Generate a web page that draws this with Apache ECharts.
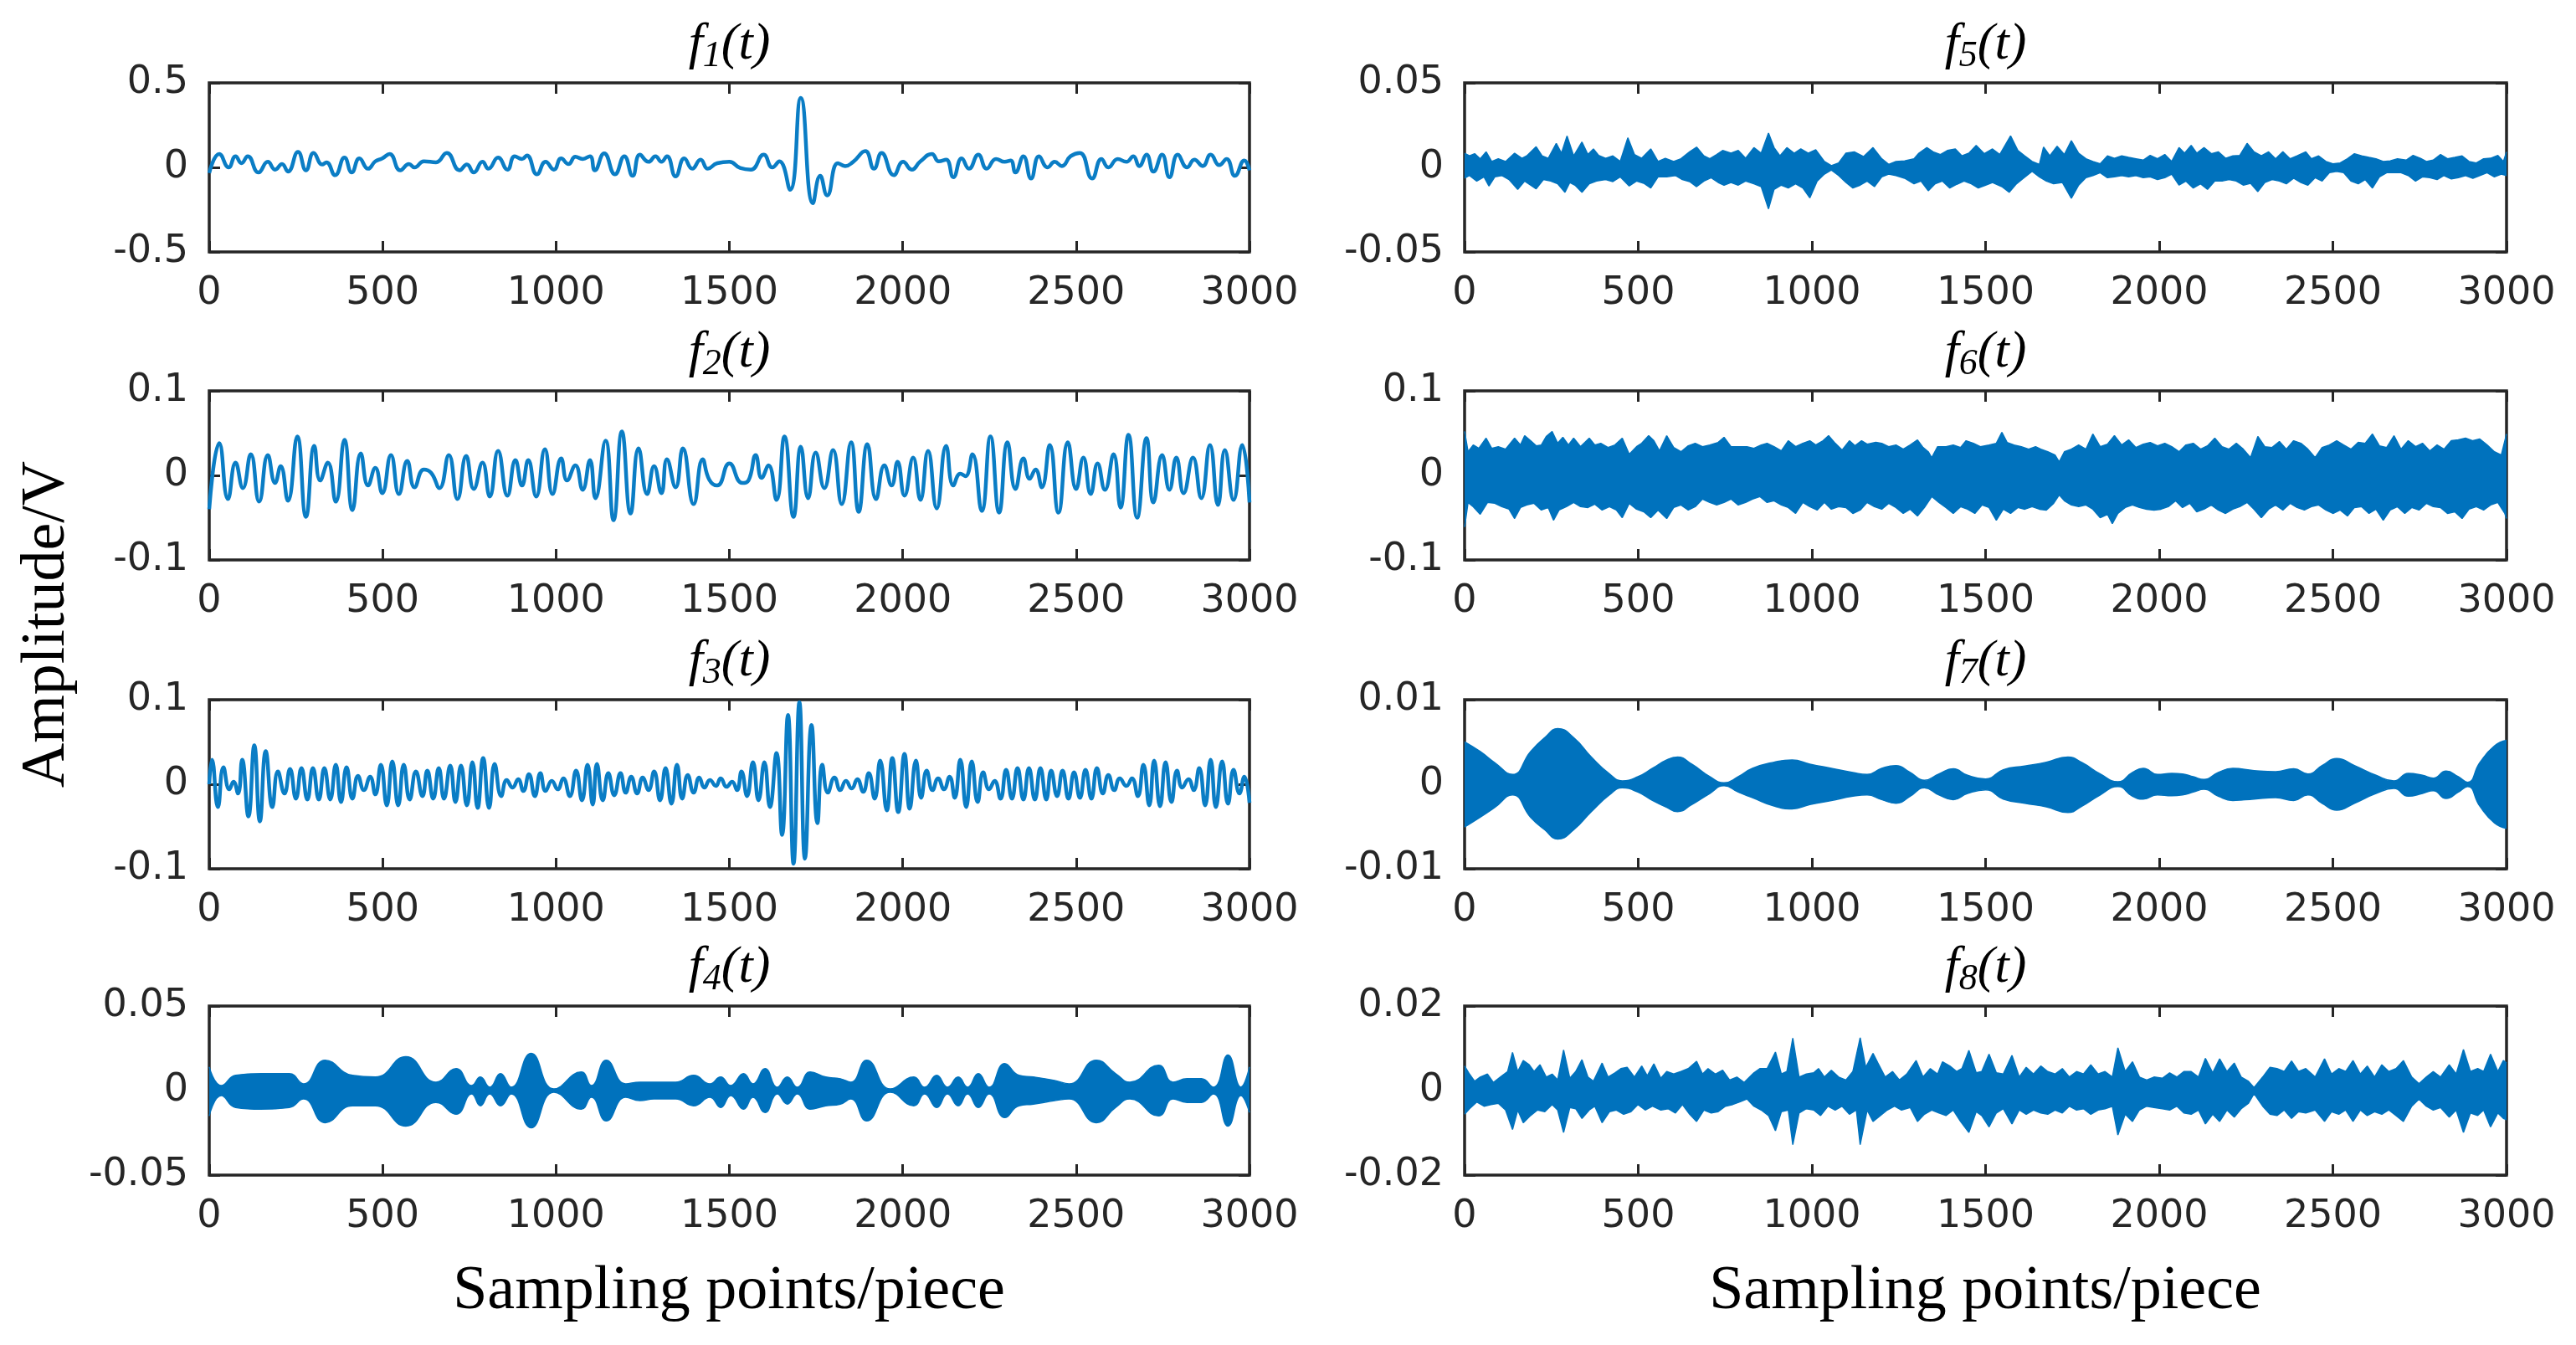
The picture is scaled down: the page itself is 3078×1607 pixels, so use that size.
<!DOCTYPE html>
<html>
<head>
<meta charset="utf-8">
<title>f1(t) - f8(t)</title>
<script src="https://cdn.jsdelivr.net/npm/echarts@6/dist/echarts.min.js"></script>
<style>
  html, body { margin: 0; padding: 0; background: #fff; }
  #main { width: 3078px; height: 1607px; }
</style>
</head>
<body>
<div id="main"></div>
<script>
// ---- data: [sample, amplitude V] ----
// f1..f3: turning points of the waveform
var f1Points = [[0,-0.033],[29,0.079],[56,0],[76,0.066],[93,0.025],[111,0.066],[142,-0.03],[169,0.033],[190,-0.013],[210,0.02],[227,-0.025],[256,0.091],[279,-0.017],[301,0.086],[326,0.017],[338,0.03],[363,-0.046],[390,0.058],[411,-0.03],[433,0.053],[458,-0.008],[479,0.036],[499,0.053],[520,0.079],[551,-0.017],[576,0.02],[592,0],[619,0.036],[654,0.03],[685,0.086],[722,-0.017],[743,0.017],[763,-0.03],[788,0.033],[805,-0.008],[833,0.058],[860,-0.013],[881,0.066],[902,0.05],[916,0.07],[945,-0.041],[970,0.033],[994,-0.013],[1015,0.053],[1036,0.02],[1056,0.063],[1077,0.05],[1098,0.066],[1112,-0.017],[1139,0.083],[1170,-0.041],[1197,0.066],[1221,-0.05],[1242,0.075],[1267,0.033],[1287,0.066],[1304,0.033],[1320,0.066],[1345,-0.053],[1370,0.053],[1393,-0.008],[1417,0.046],[1438,-0.008],[1465,0.025],[1500,0.033],[1531,-0.003],[1562,-0.013],[1599,0.075],[1624,0],[1644,0.036],[1675,-0.132],[1706,0.411],[1741,-0.212],[1762,-0.05],[1782,-0.166],[1813,0.025],[1834,0.008],[1857,0.033],[1892,0.096],[1917,-0.008],[1939,0.086],[1974,-0.046],[2001,0.033],[2026,-0.013],[2051,0.036],[2084,0.079],[2104,0.036],[2125,0.046],[2146,-0.058],[2170,0.053],[2191,-0.008],[2218,0.075],[2242,-0.008],[2269,0.05],[2294,0.033],[2311,0.041],[2325,-0.03],[2348,0.066],[2370,-0.066],[2393,0.066],[2418,0],[2438,0.033],[2459,0.008],[2484,0.066],[2511,0.086],[2546,-0.066],[2573,0.05],[2593,0],[2620,0.05],[2645,0.033],[2665,0.066],[2682,0.008],[2703,0.075],[2723,-0.025],[2748,0.075],[2769,-0.058],[2793,0.075],[2820,0],[2841,0.046],[2865,0.008],[2888,0.075],[2913,0.013],[2934,0.05],[2958,-0.05],[2985,0.041],[3000,-0.017]];

var f2Points = [[0,-0.040],[29,0.038],[54,-0.028],[76,0.015],[97,-0.015],[120,0.025],[144,-0.031],[169,0.024],[190,-0.009],[206,0.011],[227,-0.030],[254,0.046],[279,-0.049],[303,0.035],[320,-0.006],[342,0.015],[365,-0.031],[390,0.042],[413,-0.041],[437,0.026],[458,-0.012],[479,0.009],[499,-0.021],[524,0.024],[547,-0.022],[571,0.017],[592,-0.014],[619,0.007],[640,0.003],[664,-0.015],[691,0.024],[716,-0.028],[741,0.023],[763,-0.016],[788,0.015],[809,-0.025],[833,0.029],[860,-0.024],[883,0.018],[902,-0.012],[920,0.018],[943,-0.025],[968,0.031],[990,-0.022],[1015,0.020],[1032,-0.006],[1056,0.012],[1077,-0.017],[1098,0.018],[1114,-0.027],[1143,0.041],[1166,-0.053],[1190,0.052],[1215,-0.045],[1238,0.032],[1263,-0.022],[1283,0.011],[1304,-0.021],[1320,0.019],[1345,-0.014],[1366,0.032],[1397,-0.034],[1423,0.019],[1442,-0.005],[1465,-0.012],[1500,0.014],[1537,-0.009],[1555,-0.006],[1576,0.024],[1593,-0.003],[1613,0.012],[1636,-0.029],[1659,0.046],[1685,-0.049],[1706,0.034],[1727,-0.027],[1749,0.027],[1774,-0.015],[1799,0.030],[1824,-0.034],[1851,0.039],[1873,-0.043],[1898,0.037],[1923,-0.028],[1947,0.012],[1968,-0.012],[1985,0.016],[2005,-0.024],[2030,0.021],[2051,-0.029],[2073,0.029],[2098,-0.039],[2125,0.035],[2146,-0.012],[2166,0.002],[2181,-0.001],[2201,0.025],[2228,-0.042],[2253,0.046],[2278,-0.044],[2302,0.039],[2325,-0.016],[2348,0.020],[2366,-0.004],[2383,0.007],[2401,-0.014],[2424,0.036],[2449,-0.044],[2476,0.039],[2500,-0.016],[2521,0.021],[2542,-0.022],[2562,0.014],[2583,-0.017],[2608,0.025],[2628,-0.038],[2651,0.048],[2676,-0.050],[2703,0.044],[2723,-0.032],[2748,0.024],[2769,-0.017],[2789,0.021],[2810,-0.021],[2837,0.021],[2861,-0.027],[2886,0.036],[2909,-0.035],[2929,0.030],[2954,-0.029],[2979,0.036],[3000,-0.032]];

var f3Points = [[0,0],[8,0.029],[25,-0.027],[41,0.020],[58,-0.006],[70,0.003],[83,-0.011],[95,0.029],[113,-0.038],[130,0.046],[146,-0.044],[163,0.039],[182,-0.027],[198,0.015],[217,-0.011],[233,0.018],[250,-0.017],[266,0.019],[283,-0.018],[299,0.019],[316,-0.018],[332,0.019],[349,-0.018],[365,0.023],[380,-0.021],[396,0.020],[413,-0.017],[429,0.010],[446,-0.007],[464,0.009],[479,-0.012],[495,0.023],[512,-0.025],[528,0.027],[545,-0.025],[561,0.023],[578,-0.018],[596,0.015],[615,-0.014],[629,0.016],[646,-0.017],[662,0.019],[677,-0.017],[695,0.022],[710,-0.021],[726,0.022],[743,-0.025],[759,0.026],[774,-0.028],[790,0.031],[807,-0.028],[823,0.024],[842,-0.014],[858,0.005],[875,-0.004],[891,0.006],[906,-0.008],[922,0.012],[939,-0.014],[955,0.013],[970,-0.008],[988,0.004],[1005,-0.006],[1021,0.007],[1040,-0.014],[1058,0.016],[1075,-0.019],[1091,0.023],[1106,-0.024],[1118,0.024],[1135,-0.019],[1151,0.013],[1168,-0.013],[1186,0.013],[1201,-0.010],[1217,0.009],[1234,-0.011],[1250,0.008],[1267,-0.007],[1283,0.015],[1300,-0.019],[1316,0.019],[1333,-0.023],[1349,0.023],[1364,-0.017],[1380,0.011],[1397,-0.010],[1413,0.008],[1428,-0.004],[1444,0.005],[1461,-0.002],[1475,0.007],[1492,-0.003],[1508,0.003],[1522,-0.007],[1535,0.015],[1551,-0.014],[1568,0.026],[1584,-0.019],[1601,0.026],[1617,-0.027],[1636,0.037],[1652,-0.060],[1669,0.082],[1685,-0.094],[1702,0.097],[1718,-0.088],[1737,0.070],[1754,-0.046],[1768,0.023],[1784,-0.010],[1803,0.008],[1820,-0.007],[1836,0.004],[1853,-0.005],[1869,0.006],[1886,-0.009],[1902,0.013],[1919,-0.017],[1935,0.028],[1954,-0.031],[1970,0.031],[1987,-0.033],[2005,0.036],[2020,-0.029],[2038,0.028],[2053,-0.016],[2069,0.016],[2086,-0.007],[2102,0.007],[2119,-0.006],[2135,0.009],[2150,-0.016],[2166,0.029],[2183,-0.027],[2199,0.027],[2216,-0.021],[2232,0.014],[2249,-0.006],[2265,0.004],[2282,-0.017],[2298,0.017],[2315,-0.017],[2331,0.019],[2348,-0.018],[2364,0.019],[2381,-0.018],[2397,0.019],[2414,-0.018],[2428,0.016],[2445,-0.014],[2461,0.016],[2478,-0.017],[2494,0.014],[2511,-0.016],[2527,0.017],[2544,-0.017],[2560,0.019],[2577,-0.011],[2593,0.011],[2610,-0.007],[2626,0.007],[2645,-0.002],[2661,0.007],[2678,-0.014],[2694,0.023],[2711,-0.025],[2725,0.028],[2742,-0.026],[2758,0.026],[2775,-0.021],[2791,0.016],[2806,-0.004],[2824,0.006],[2839,-0.007],[2855,0.019],[2872,-0.025],[2888,0.029],[2903,-0.027],[2921,0.027],[2938,-0.023],[2954,0.017],[2971,-0.011],[2985,0.009],[3000,-0.022]];

// f4, f7: upper / lower envelope of the dense carrier
var f4X = [0,35,76,149,231,272,334,413,479,567,654,712,757,782,809,840,871,928,994,1073,1102,1145,1201,1242,1283,1345,1397,1444,1475,1504,1541,1568,1603,1638,1667,1696,1733,1778,1820,1850,1896,1964,2032,2063,2098,2129,2160,2187,2218,2249,2294,2335,2377,2438,2480,2558,2614,2655,2738,2779,2820,2861,2896,2938,2975,3000];
var f4Upper = [0.014,0.003,0.009,0.010,0.010,0.004,0.018,0.009,0.008,0.020,0.005,0.013,0.003,0.008,0.002,0.010,0.002,0.022,0.001,0.011,0.003,0.018,0.004,0.005,0.005,0.005,0.009,0.004,0.008,0.003,0.010,0.004,0.013,0.002,0.008,0.002,0.011,0.008,0.007,0.005,0.018,0.001,0.008,0.002,0.009,0.002,0.008,0.002,0.010,0.002,0.016,0.009,0.008,0.006,0.004,0.018,0.010,0.005,0.015,0.005,0.007,0.007,0.002,0.021,0.002,0.014];
var f4Lower = [-0.015,-0.003,-0.010,-0.011,-0.010,-0.005,-0.019,-0.009,-0.009,-0.021,-0.007,-0.014,-0.002,-0.009,-0.002,-0.009,-0.002,-0.022,-0.001,-0.011,-0.004,-0.018,-0.004,-0.006,-0.005,-0.005,-0.009,-0.004,-0.010,-0.003,-0.011,-0.004,-0.013,-0.002,-0.008,-0.002,-0.011,-0.009,-0.008,-0.005,-0.018,-0.001,-0.009,-0.002,-0.010,-0.002,-0.009,-0.002,-0.010,-0.002,-0.016,-0.009,-0.008,-0.006,-0.005,-0.019,-0.010,-0.005,-0.015,-0.005,-0.007,-0.007,-0.002,-0.021,-0.003,-0.013];

var f7X = [0,45,87,138,190,231,268,314,365,417,454,499,541,582,613,654,706,747,788,829,891,943,994,1056,1118,1159,1201,1242,1283,1324,1366,1407,1448,1500,1551,1613,1675,1737,1778,1830,1881,1923,1954,1995,2036,2067,2098,2129,2170,2212,2273,2335,2387,2428,2469,2511,2562,2624,2676,2717,2758,2789,2826,2861,2888,2923,2965,3000];
var f7Upper = [0.00502,0.00387,0.00255,0.00116,0.00387,0.00552,0.00658,0.00552,0.00321,0.00122,0.00040,0.00089,0.00188,0.00288,0.00321,0.00238,0.00089,0.00017,0.00089,0.00188,0.00261,0.00288,0.00238,0.00188,0.00139,0.00116,0.00188,0.00221,0.00139,0.00046,0.00122,0.00182,0.00106,0.00063,0.00172,0.00215,0.00261,0.00321,0.00255,0.00122,0.00030,0.00139,0.00188,0.00116,0.00129,0.00122,0.00089,0.00056,0.00139,0.00188,0.00162,0.00149,0.00182,0.00122,0.00221,0.00304,0.00221,0.00106,0.00040,0.00129,0.00106,0.00073,0.00155,0.00089,0.00023,0.00255,0.00453,0.00519];
var f7Lower = [-0.00506,-0.00390,-0.00274,-0.00126,-0.00390,-0.00539,-0.00648,-0.00539,-0.00324,-0.00126,-0.00043,-0.00093,-0.00192,-0.00274,-0.00324,-0.00241,-0.00109,-0.00017,-0.00093,-0.00159,-0.00258,-0.00291,-0.00241,-0.00192,-0.00142,-0.00126,-0.00182,-0.00225,-0.00142,-0.00043,-0.00126,-0.00182,-0.00109,-0.00066,-0.00175,-0.00225,-0.00268,-0.00334,-0.00258,-0.00126,-0.00026,-0.00142,-0.00175,-0.00126,-0.00136,-0.00126,-0.00093,-0.00060,-0.00142,-0.00192,-0.00175,-0.00159,-0.00192,-0.00126,-0.00225,-0.00307,-0.00225,-0.00109,-0.00050,-0.00142,-0.00109,-0.00076,-0.00169,-0.00093,-0.00026,-0.00258,-0.00456,-0.00522];

// f5, f6, f8: spiky envelopes, [sample, amplitude V]
var f5Upper = [[0,0.0084],[14,0.0068],[29,0.0081],[45,0.0051],[62,0.0092],[78,0.0035],[97,0.0051],[118,0.0035],[144,0.0084],[165,0.0054],[179,0.0068],[206,0.0122],[223,0.0068],[241,0.0054],[264,0.0142],[279,0.0084],[295,0.0186],[314,0.0068],[338,0.015],[355,0.0076],[371,0.0109],[386,0.0071],[406,0.0054],[427,0.0068],[448,0.0035],[470,0.0175],[489,0.0076],[510,0.0054],[536,0.0109],[557,0.0035],[578,0.0054],[602,0.0035],[623,0.0051],[648,0.0092],[668,0.012],[689,0.0068],[706,0.0051],[726,0.0076],[743,0.01],[767,0.0084],[788,0.01],[809,0.0054],[833,0.0117],[854,0.0084],[875,0.0203],[891,0.0117],[908,0.0068],[928,0.0117],[949,0.0084],[968,0.0109],[990,0.0084],[1011,0.0104],[1036,0.0035],[1056,0.001],[1077,0.0026],[1098,0.0084],[1122,0.0092],[1149,0.0064],[1176,0.0117],[1201,0.0051],[1221,0.0018],[1242,0.0035],[1267,0.0038],[1294,0.0051],[1308,0.0084],[1331,0.0117],[1349,0.0092],[1370,0.0076],[1390,0.01],[1413,0.0109],[1432,0.0068],[1452,0.0084],[1473,0.013],[1496,0.0081],[1520,0.0109],[1541,0.0076],[1572,0.0186],[1593,0.01],[1613,0.0068],[1634,0.0035],[1655,0.0018],[1667,0.012],[1685,0.0068],[1706,0.0125],[1727,0.0076],[1747,0.0158],[1768,0.0084],[1789,0.0051],[1809,0.0035],[1830,0.0021],[1851,0.0068],[1871,0.0054],[1892,0.0068],[1912,0.0059],[1933,0.0051],[1954,0.0043],[1974,0.0071],[1995,0.0051],[2016,0.0076],[2036,0.0035],[2057,0.0117],[2073,0.0084],[2092,0.013],[2108,0.0084],[2129,0.0117],[2150,0.0081],[2170,0.0092],[2191,0.0054],[2212,0.0068],[2232,0.0071],[2253,0.0142],[2273,0.0092],[2294,0.0068],[2315,0.0092],[2335,0.0051],[2356,0.0092],[2377,0.0051],[2397,0.0068],[2422,0.0092],[2438,0.0051],[2459,0.0068],[2480,0.0035],[2500,0.0021],[2521,0.0026],[2542,0.0051],[2562,0.0081],[2583,0.0068],[2604,0.0059],[2624,0.0051],[2645,0.0035],[2665,0.0038],[2686,0.0051],[2711,0.0043],[2731,0.0071],[2752,0.0054],[2769,0.0035],[2789,0.0043],[2810,0.0076],[2830,0.0051],[2851,0.0059],[2872,0.0068],[2892,0.0035],[2913,0.0026],[2934,0.0051],[2954,0.0054],[2975,0.0071],[2991,0.0035],[3000,0.0092]];
var f5Lower = [[0,-0.0064],[14,-0.0048],[35,-0.0081],[56,-0.0056],[70,-0.011],[87,-0.0056],[107,-0.0048],[128,-0.0072],[153,-0.013],[173,-0.0081],[190,-0.0105],[206,-0.0127],[227,-0.0072],[248,-0.0081],[268,-0.0097],[289,-0.0147],[303,-0.0089],[318,-0.0105],[338,-0.0147],[359,-0.0097],[380,-0.0081],[406,-0.0072],[427,-0.0084],[448,-0.0056],[474,-0.011],[495,-0.0081],[516,-0.0094],[536,-0.0122],[557,-0.0056],[582,-0.0056],[607,-0.0048],[627,-0.0072],[648,-0.0084],[668,-0.0114],[689,-0.0081],[710,-0.0061],[730,-0.0089],[747,-0.0105],[767,-0.0089],[788,-0.0105],[809,-0.0081],[833,-0.0097],[854,-0.0114],[875,-0.0245],[891,-0.013],[912,-0.0105],[932,-0.0122],[953,-0.0097],[974,-0.0122],[994,-0.018],[1015,-0.0081],[1036,-0.004],[1056,-0.0015],[1077,-0.0048],[1098,-0.0089],[1118,-0.0122],[1139,-0.0105],[1159,-0.0081],[1180,-0.0114],[1201,-0.0056],[1221,-0.004],[1242,-0.0048],[1267,-0.0064],[1294,-0.0097],[1314,-0.0081],[1335,-0.0138],[1355,-0.0097],[1376,-0.0081],[1397,-0.0122],[1417,-0.01],[1438,-0.0081],[1459,-0.0097],[1479,-0.0122],[1500,-0.0105],[1520,-0.0089],[1547,-0.0114],[1568,-0.0147],[1589,-0.0097],[1609,-0.0064],[1634,-0.0023],[1655,-0.0056],[1675,-0.0081],[1696,-0.0097],[1721,-0.0089],[1747,-0.0183],[1768,-0.0105],[1789,-0.0061],[1809,-0.0048],[1830,-0.0031],[1851,-0.0061],[1871,-0.0056],[1892,-0.0048],[1912,-0.0056],[1933,-0.0048],[1954,-0.0061],[1974,-0.0056],[1995,-0.0072],[2016,-0.0061],[2036,-0.004],[2057,-0.0105],[2077,-0.0081],[2098,-0.0122],[2119,-0.0097],[2139,-0.013],[2160,-0.0081],[2181,-0.0081],[2201,-0.0072],[2222,-0.0081],[2242,-0.0105],[2263,-0.0094],[2284,-0.0143],[2304,-0.0089],[2325,-0.0072],[2346,-0.0081],[2366,-0.0097],[2387,-0.0064],[2408,-0.0089],[2428,-0.0105],[2449,-0.0061],[2469,-0.0081],[2490,-0.0031],[2511,-0.0023],[2531,-0.0031],[2552,-0.0081],[2573,-0.0097],[2593,-0.0072],[2614,-0.0122],[2634,-0.0056],[2655,-0.0031],[2676,-0.0031],[2696,-0.0031],[2717,-0.0048],[2738,-0.0081],[2758,-0.0056],[2779,-0.0061],[2800,-0.0072],[2820,-0.0048],[2841,-0.0068],[2861,-0.0061],[2882,-0.0048],[2903,-0.0064],[2923,-0.0048],[2944,-0.0031],[2965,-0.0056],[2985,-0.004],[3000,-0.0048]];

var f6Upper = [[0,0.052],[10,0.028],[25,0.036],[41,0.032],[62,0.044],[78,0.032],[97,0.034],[118,0.031],[144,0.044],[161,0.036],[173,0.047],[190,0.041],[206,0.035],[221,0.036],[235,0.046],[252,0.052],[268,0.038],[283,0.045],[299,0.036],[314,0.044],[334,0.034],[359,0.044],[375,0.036],[392,0.038],[413,0.033],[433,0.036],[454,0.044],[474,0.025],[495,0.034],[510,0.038],[530,0.047],[545,0.041],[561,0.029],[582,0.047],[602,0.033],[623,0.028],[644,0.035],[664,0.038],[685,0.034],[706,0.036],[730,0.039],[747,0.045],[767,0.034],[788,0.034],[813,0.034],[833,0.032],[854,0.036],[871,0.038],[891,0.034],[912,0.029],[932,0.041],[953,0.034],[974,0.038],[994,0.041],[1011,0.036],[1032,0.041],[1048,0.047],[1067,0.038],[1087,0.030],[1108,0.041],[1124,0.035],[1143,0.041],[1159,0.037],[1184,0.039],[1201,0.038],[1221,0.034],[1242,0.036],[1263,0.031],[1283,0.036],[1304,0.042],[1320,0.033],[1335,0.028],[1345,0.021],[1362,0.034],[1386,0.034],[1407,0.036],[1428,0.033],[1444,0.041],[1465,0.038],[1485,0.034],[1510,0.036],[1531,0.038],[1547,0.051],[1562,0.039],[1582,0.036],[1603,0.034],[1624,0.031],[1644,0.034],[1659,0.031],[1679,0.028],[1700,0.024],[1712,0.016],[1727,0.028],[1747,0.031],[1768,0.036],[1789,0.031],[1809,0.049],[1830,0.034],[1851,0.037],[1871,0.047],[1892,0.036],[1912,0.042],[1933,0.033],[1954,0.037],[1974,0.039],[1995,0.035],[2016,0.038],[2036,0.034],[2057,0.028],[2077,0.036],[2098,0.038],[2119,0.031],[2139,0.035],[2160,0.044],[2181,0.034],[2201,0.031],[2222,0.038],[2242,0.031],[2263,0.021],[2284,0.046],[2304,0.034],[2325,0.033],[2346,0.040],[2366,0.031],[2387,0.041],[2408,0.038],[2428,0.031],[2449,0.021],[2469,0.033],[2490,0.036],[2511,0.041],[2531,0.036],[2552,0.031],[2573,0.039],[2593,0.038],[2614,0.049],[2634,0.035],[2655,0.033],[2676,0.047],[2696,0.031],[2717,0.041],[2738,0.034],[2758,0.038],[2779,0.029],[2800,0.036],[2820,0.031],[2841,0.041],[2861,0.042],[2882,0.044],[2903,0.041],[2923,0.043],[2944,0.036],[2965,0.028],[2985,0.024],[3000,0.049]];
var f6Lower = [[0,-0.061],[10,-0.032],[25,-0.037],[45,-0.046],[66,-0.032],[87,-0.033],[107,-0.037],[128,-0.040],[144,-0.051],[161,-0.038],[179,-0.035],[200,-0.033],[221,-0.041],[241,-0.038],[256,-0.053],[272,-0.041],[293,-0.037],[314,-0.032],[334,-0.037],[355,-0.038],[375,-0.034],[396,-0.041],[417,-0.037],[437,-0.041],[454,-0.050],[474,-0.033],[495,-0.040],[516,-0.043],[536,-0.050],[557,-0.041],[582,-0.051],[602,-0.038],[623,-0.035],[644,-0.041],[664,-0.037],[685,-0.028],[706,-0.032],[726,-0.035],[747,-0.032],[767,-0.028],[788,-0.035],[809,-0.032],[829,-0.028],[850,-0.025],[871,-0.032],[891,-0.030],[912,-0.035],[932,-0.038],[953,-0.045],[974,-0.032],[994,-0.037],[1015,-0.041],[1036,-0.032],[1056,-0.040],[1077,-0.037],[1098,-0.038],[1118,-0.045],[1139,-0.041],[1159,-0.032],[1180,-0.037],[1201,-0.040],[1221,-0.033],[1242,-0.038],[1263,-0.045],[1283,-0.040],[1304,-0.048],[1324,-0.038],[1345,-0.025],[1366,-0.032],[1386,-0.038],[1407,-0.045],[1428,-0.037],[1448,-0.040],[1469,-0.045],[1490,-0.035],[1510,-0.038],[1531,-0.053],[1551,-0.040],[1572,-0.045],[1593,-0.038],[1613,-0.040],[1634,-0.037],[1655,-0.040],[1675,-0.041],[1696,-0.033],[1712,-0.023],[1727,-0.030],[1747,-0.035],[1768,-0.037],[1789,-0.035],[1809,-0.040],[1830,-0.050],[1851,-0.046],[1865,-0.057],[1881,-0.045],[1902,-0.038],[1923,-0.035],[1943,-0.038],[1964,-0.040],[1985,-0.041],[2005,-0.040],[2026,-0.037],[2047,-0.030],[2067,-0.038],[2088,-0.033],[2108,-0.043],[2129,-0.040],[2150,-0.035],[2170,-0.041],[2191,-0.045],[2212,-0.040],[2232,-0.037],[2253,-0.032],[2273,-0.040],[2294,-0.050],[2315,-0.040],[2335,-0.035],[2356,-0.041],[2377,-0.033],[2397,-0.038],[2418,-0.041],[2438,-0.037],[2459,-0.035],[2480,-0.041],[2500,-0.045],[2521,-0.041],[2542,-0.048],[2562,-0.038],[2583,-0.037],[2604,-0.045],[2624,-0.040],[2645,-0.053],[2665,-0.041],[2686,-0.037],[2707,-0.045],[2727,-0.038],[2748,-0.041],[2769,-0.033],[2789,-0.037],[2810,-0.038],[2830,-0.045],[2851,-0.043],[2872,-0.051],[2892,-0.040],[2913,-0.037],[2934,-0.041],[2954,-0.035],[2975,-0.032],[2995,-0.045],[3000,-0.051]];

var f8Upper = [[0,0.0058],[14,0.0039],[29,0.0022],[45,0.0032],[66,0.0039],[83,0.0019],[103,0.0032],[124,0.0045],[138,0.009],[153,0.0045],[169,0.0071],[186,0.0061],[200,0.0045],[217,0.0061],[235,0.0032],[252,0.0039],[268,0.0025],[285,0.0096],[303,0.0029],[320,0.0045],[338,0.0073],[355,0.0032],[371,0.0022],[396,0.0065],[413,0.0032],[433,0.0042],[450,0.0052],[468,0.0055],[489,0.0032],[510,0.0058],[526,0.0035],[545,0.0063],[565,0.0029],[582,0.0045],[602,0.0039],[623,0.0045],[644,0.0052],[668,0.0069],[685,0.0039],[701,0.0052],[722,0.0039],[743,0.0048],[763,0.0025],[784,0.0032],[805,0.0019],[833,0.0042],[850,0.0052],[871,0.0052],[895,0.0091],[912,0.0039],[928,0.0045],[945,0.0124],[963,0.0032],[984,0.0039],[1005,0.0042],[1019,0.0052],[1036,0.0032],[1056,0.0048],[1077,0.0032],[1098,0.0025],[1118,0.0045],[1139,0.0125],[1155,0.0055],[1176,0.0088],[1190,0.0065],[1211,0.0032],[1232,0.0045],[1252,0.0025],[1273,0.0039],[1300,0.0071],[1320,0.0032],[1341,0.0052],[1362,0.0039],[1376,0.0068],[1397,0.0058],[1417,0.0045],[1432,0.0052],[1452,0.0095],[1473,0.0042],[1489,0.0045],[1510,0.0086],[1531,0.0042],[1551,0.0039],[1576,0.0083],[1597,0.0032],[1617,0.0055],[1638,0.0039],[1659,0.0058],[1679,0.0045],[1700,0.0039],[1721,0.0052],[1741,0.0032],[1762,0.0045],[1782,0.0039],[1803,0.0061],[1824,0.0039],[1844,0.0045],[1865,0.0032],[1881,0.0101],[1902,0.0045],[1923,0.0068],[1943,0.0032],[1964,0.0025],[1985,0.0032],[2009,0.0029],[2030,0.0042],[2051,0.0032],[2071,0.0045],[2092,0.0045],[2113,0.0032],[2133,0.0076],[2154,0.0042],[2174,0.0075],[2195,0.0045],[2216,0.0065],[2236,0.0032],[2257,0.0022],[2273,0.0007],[2298,0.0032],[2319,0.0055],[2339,0.0052],[2360,0.0045],[2381,0.007],[2401,0.0045],[2422,0.0052],[2449,0.0032],[2476,0.0075],[2496,0.0039],[2517,0.0052],[2537,0.0045],[2558,0.0071],[2579,0.0039],[2599,0.0058],[2620,0.0032],[2641,0.0061],[2661,0.0045],[2682,0.0052],[2703,0.0071],[2727,0.0032],[2748,0.0016],[2769,0.0032],[2789,0.0045],[2810,0.0032],[2835,0.0061],[2855,0.0039],[2876,0.0097],[2896,0.0045],[2917,0.0052],[2934,0.0045],[2954,0.0086],[2975,0.0045],[2991,0.0071],[3000,0.0065]];
var f8Lower = [[0,-0.0056],[14,-0.0043],[35,-0.0027],[56,-0.0037],[76,-0.0033],[97,-0.003],[118,-0.0046],[138,-0.0092],[153,-0.0046],[169,-0.0076],[190,-0.0059],[210,-0.0046],[231,-0.005],[252,-0.0033],[268,-0.0046],[285,-0.0099],[303,-0.004],[320,-0.0043],[338,-0.0066],[359,-0.0046],[375,-0.0037],[396,-0.0076],[417,-0.005],[437,-0.0046],[458,-0.0056],[479,-0.005],[499,-0.0033],[520,-0.0046],[541,-0.0037],[565,-0.0046],[586,-0.0043],[607,-0.0053],[627,-0.0033],[648,-0.0056],[668,-0.0073],[689,-0.0046],[710,-0.0053],[730,-0.005],[751,-0.0037],[772,-0.0033],[792,-0.0027],[813,-0.002],[833,-0.0037],[854,-0.0046],[875,-0.0059],[895,-0.0095],[912,-0.005],[932,-0.0046],[945,-0.0128],[963,-0.0053],[984,-0.0043],[1005,-0.0046],[1025,-0.0059],[1046,-0.0037],[1067,-0.0046],[1087,-0.0037],[1108,-0.0056],[1128,-0.0046],[1139,-0.0128],[1159,-0.0046],[1176,-0.0073],[1197,-0.0059],[1217,-0.0046],[1238,-0.0037],[1258,-0.0046],[1283,-0.004],[1304,-0.0073],[1324,-0.0056],[1345,-0.0046],[1366,-0.0053],[1386,-0.0059],[1407,-0.0046],[1428,-0.0073],[1452,-0.0099],[1473,-0.005],[1489,-0.0059],[1510,-0.0086],[1531,-0.0053],[1551,-0.0043],[1576,-0.0079],[1597,-0.0046],[1617,-0.0056],[1638,-0.0046],[1659,-0.0053],[1679,-0.0056],[1700,-0.0046],[1721,-0.0053],[1741,-0.0037],[1762,-0.0046],[1782,-0.0043],[1803,-0.0056],[1824,-0.0046],[1844,-0.0043],[1865,-0.0037],[1881,-0.0105],[1902,-0.0056],[1923,-0.0073],[1943,-0.0046],[1964,-0.0037],[1985,-0.004],[2009,-0.0043],[2030,-0.0046],[2051,-0.0037],[2071,-0.0053],[2092,-0.0056],[2113,-0.0046],[2133,-0.0079],[2154,-0.0056],[2174,-0.0073],[2195,-0.0046],[2216,-0.0063],[2236,-0.0043],[2257,-0.003],[2273,-0.0007],[2298,-0.0037],[2319,-0.0056],[2339,-0.0059],[2360,-0.0046],[2381,-0.0066],[2401,-0.005],[2422,-0.0053],[2449,-0.0046],[2476,-0.0073],[2496,-0.005],[2517,-0.0056],[2537,-0.0046],[2558,-0.0073],[2579,-0.0046],[2599,-0.0059],[2620,-0.005],[2641,-0.0056],[2661,-0.0046],[2682,-0.0059],[2703,-0.0073],[2727,-0.0037],[2748,-0.002],[2769,-0.0037],[2789,-0.0046],[2810,-0.004],[2835,-0.0063],[2855,-0.0046],[2876,-0.0099],[2896,-0.0053],[2917,-0.0059],[2934,-0.0046],[2954,-0.0086],[2975,-0.0053],[2991,-0.0066],[3000,-0.0069]];

// axis ranges / ticks per panel: [min, max, interval]
var yTicks = [[-0.5,0.5,0.5],[-0.1,0.1,0.1],[-0.1,0.1,0.1],[-0.05,0.05,0.05],
              [-0.05,0.05,0.05],[-0.1,0.1,0.1],[-0.01,0.01,0.01],[-0.02,0.02,0.02]];
var xTicks = [0, 3000, 500];
var subscripts = ['1','2','3','4','5','6','7','8'];
var xName = 'Sampling points/piece';
var yName = 'Amplitude/V';

function zip(xs, ys) {
  return xs.map(function (x, i) { return [x, ys[i]]; });
}

var chart = echarts.init(document.getElementById('main'));
var ink = '#262626';
var blue = '#0072BD';     // filled envelopes
var lineBlue = '#0A7DC5'; // single waveforms
var colLeft = [250, 1750], colWidth = [1243, 1245];
var rowTop = [99, 467, 836, 1202], plotH = 202;

var grids = [], xAxes = [], yAxes = [], titles = [], series = [];

for (var i = 0; i < 8; i++) {
  var c = i < 4 ? 0 : 1, r = i % 4;
  grids.push({ left: colLeft[c], top: rowTop[r], width: colWidth[c], height: plotH,
    show: true, borderColor: ink, borderWidth: 3.5, backgroundColor: 'transparent' });
  var tick = { show: true, inside: true, length: 13, lineStyle: { color: ink, width: 3 } };
  var noLine = { show: false, onZero: false };
  xAxes.push({ type: 'value', gridIndex: i, min: xTicks[0], max: xTicks[1], interval: xTicks[2],
    position: 'bottom', axisLine: noLine, splitLine: { show: false }, axisTick: tick,
    axisLabel: { fontFamily: 'DejaVu Sans', fontSize: 46, color: ink, margin: 27,
      formatter: function (v) { return String(v); } } });
  xAxes.push({ type: 'value', gridIndex: i, min: xTicks[0], max: xTicks[1], interval: xTicks[2],
    position: 'top', axisLine: noLine, splitLine: { show: false }, axisTick: tick,
    axisLabel: { show: false } });
  var yt = yTicks[i];
  yAxes.push({ type: 'value', gridIndex: i, min: yt[0], max: yt[1], interval: yt[2],
    position: 'left', axisLine: noLine, splitLine: { show: false }, axisTick: tick,
    axisLabel: { fontFamily: 'DejaVu Sans', fontSize: 46, color: ink, margin: 25 } });
  yAxes.push({ type: 'value', gridIndex: i, min: yt[0], max: yt[1], interval: yt[2],
    position: 'right', axisLine: noLine, splitLine: { show: false }, axisTick: tick,
    axisLabel: { show: false } });

  titles.push({
    text: '{a|f}{b|' + subscripts[i] + '}{a|(t)}',
    left: colLeft[c] + colWidth[c] / 2, top: rowTop[r] - 80, textAlign: 'center', padding: 0,
    textStyle: { fontWeight: 'normal', rich: {
      a: { fontFamily: 'Liberation Serif', fontStyle: 'italic', fontWeight: 'normal', fontSize: 62, color: '#000', lineHeight: 70 },
      b: { fontFamily: 'Liberation Serif', fontStyle: 'italic', fontWeight: 'normal', fontSize: 44, color: '#000', lineHeight: 44, verticalAlign: 'bottom' }
    } }
  });
}

function wave(idx, pts) {
  return { type: 'line', xAxisIndex: idx * 2, yAxisIndex: idx * 2, data: pts, smooth: true,
    showSymbol: false, lineStyle: { color: lineBlue, width: 4.5 } };
}
function band(idx, pts, smooth) {
  return { type: 'line', xAxisIndex: idx * 2, yAxisIndex: idx * 2, data: pts, smooth: smooth,
    showSymbol: false, lineStyle: { color: blue, width: 1.5 },
    areaStyle: { color: blue, opacity: 1 } };
}

series.push(wave(0, f1Points));
series.push(wave(1, f2Points));
series.push(wave(2, f3Points));
series.push(band(3, zip(f4X, f4Upper), 0.5), band(3, zip(f4X, f4Lower), 0.5));
series.push(band(4, f5Upper, false), band(4, f5Lower, false));
series.push(band(5, f6Upper, false), band(5, f6Lower, false));
series.push(band(6, zip(f7X, f7Upper), 0.5), band(6, zip(f7X, f7Lower), 0.5));
series.push(band(7, f8Upper, false), band(7, f8Lower, false));

var labelFont = '74px "Liberation Serif"';
chart.setOption({
  animation: false,
  backgroundColor: '#fff',
  title: titles,
  grid: grids,
  xAxis: xAxes,
  yAxis: yAxes,
  series: series,
  graphic: [
    { type: 'text', x: 57, y: 746, rotation: Math.PI / 2,
      style: { text: yName, font: labelFont, fill: '#000', align: 'center', verticalAlign: 'middle',
               textAlign: 'center', textVerticalAlign: 'middle' } },
    { type: 'text', x: 871, y: 1544,
      style: { text: xName, font: labelFont, fill: '#000', align: 'center', verticalAlign: 'middle',
               textAlign: 'center', textVerticalAlign: 'middle' } },
    { type: 'text', x: 2372, y: 1544,
      style: { text: xName, font: labelFont, fill: '#000', align: 'center', verticalAlign: 'middle',
               textAlign: 'center', textVerticalAlign: 'middle' } }
  ]
});
</script>
</body>
</html>
